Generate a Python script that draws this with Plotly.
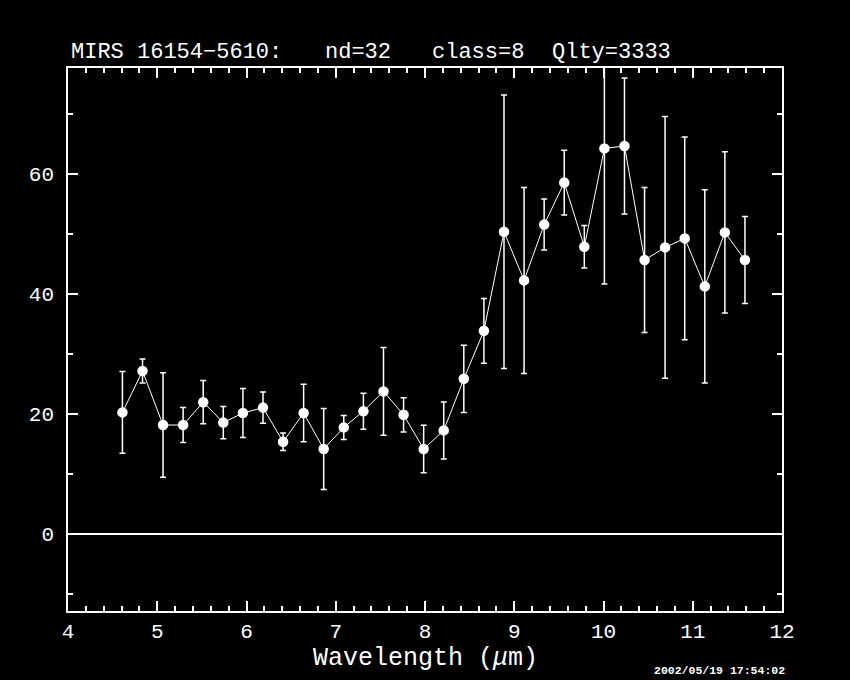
import plotly.graph_objects as go

# ---- data ----
wavelength = [4.61, 4.835, 5.065, 5.29, 5.515, 5.74, 5.96, 6.185, 6.41, 6.64,
              6.865, 7.09, 7.31, 7.535, 7.76, 7.985, 8.21, 8.435, 8.66, 8.885,
              9.11, 9.335, 9.56, 9.785, 10.01, 10.235, 10.46, 10.69, 10.91, 11.135,
              11.36, 11.585]
flux = [20.2, 27.1, 18.1, 18.1, 21.9, 18.5, 20.1, 21.0, 15.3, 20.1,
        14.1, 17.7, 20.4, 23.7, 19.8, 14.1, 17.2, 25.8, 33.8, 50.3,
        42.2, 51.5, 58.5, 47.8, 64.2, 64.6, 45.6, 47.7, 49.2, 41.2,
        50.2, 45.6]
flux_err = [6.8, 2.0, 8.7, 2.9, 3.6, 2.7, 4.1, 2.6, 1.45, 4.8,
            6.75, 2.0, 3.0, 7.3, 2.85, 3.95, 4.75, 5.6, 5.4, 22.8,
            15.5, 4.25, 5.4, 3.55, 22.6, 11.35, 12.1, 21.8, 16.9, 16.1,
            13.45, 7.25]

title_parts = ["MIRS 16154\u22125610:", "nd=32", "class=8", "Qlty=3333"]
title_x_px = [69, 323, 430, 550]
x_label = "Wavelength (<i>\u03bc</i>m)"
timestamp = "2002/05/19 17:54:02"

x_range = [4, 12]
y_range = [-12.9, 77.6]
x_ticks = [4, 5, 6, 7, 8, 9, 10, 11, 12]
y_ticks = [0, 20, 40, 60]

W, H = 850, 680
ML, MR, MT, MB = 68, 68, 68, 69
PW = W - ML - MR
PH = H - MT - MB

def px_x(p):
    return (p - ML) / PW

def px_y(p):
    return (H - MB - p) / PH

FONT = "Liberation Mono"

fig = go.Figure()
fig.add_trace(go.Scatter(
    x=wavelength, y=flux, mode="lines+markers",
    line=dict(color="white", width=1),
    marker=dict(color="white", size=10.5, symbol="circle"),
    error_y=dict(type="data", array=flux_err, visible=True,
                 color="white", thickness=1.5, width=3),
    showlegend=False,
))

axis_common = dict(
    showgrid=False, showline=True, linecolor="white", linewidth=1.5,
    mirror="ticks", ticks="inside", tickcolor="white", tickwidth=1.5,
    ticklen=10,
    tickfont=dict(family=FONT, size=21, color="white"),
)

fig.update_xaxes(range=x_range, tickvals=x_ticks, zeroline=False,
                 minor=dict(dtick=0.2, ticks="inside", ticklen=5,
                            tickcolor="white", tickwidth=1.5, showgrid=False),
                 **axis_common)
fig.update_yaxes(range=y_range, tickvals=y_ticks,
                 zeroline=True, zerolinecolor="white", zerolinewidth=2,
                 minor=dict(tickvals=[-10, 10, 30, 50, 70], ticks="inside", ticklen=5,
                            tickcolor="white", tickwidth=1.5, showgrid=False),
                 ticklabelstandoff=8,
                 **axis_common)

annotations = []
for t, xp in zip(title_parts, title_x_px):
    annotations.append(dict(
        text=t, x=px_x(xp), y=px_y(53), xref="paper", yref="paper",
        xanchor="left", yanchor="middle", showarrow=False,
        font=dict(family=FONT, size=22, color="white")))
annotations.append(dict(
    text=x_label, x=0.5, y=px_y(658), xref="paper", yref="paper",
    xanchor="center", yanchor="middle", showarrow=False,
    font=dict(family=FONT, size=25, color="white")))
annotations.append(dict(
    text="<b>" + timestamp + "</b>", x=px_x(719), y=px_y(679), xref="paper", yref="paper",
    xanchor="center", yanchor="bottom", showarrow=False,
    font=dict(family=FONT, size=11.5, color="white")))

fig.update_layout(
    width=W, height=H,
    margin=dict(l=ML, r=MR, t=MT, b=MB, pad=0),
    paper_bgcolor="black", plot_bgcolor="black",
    annotations=annotations,
    showlegend=False,
)

fig.write_html("out.html",
               config={"displayModeBar": False},
               post_script="document.body.style.margin='0';"
                           "document.body.style.background='black';")
